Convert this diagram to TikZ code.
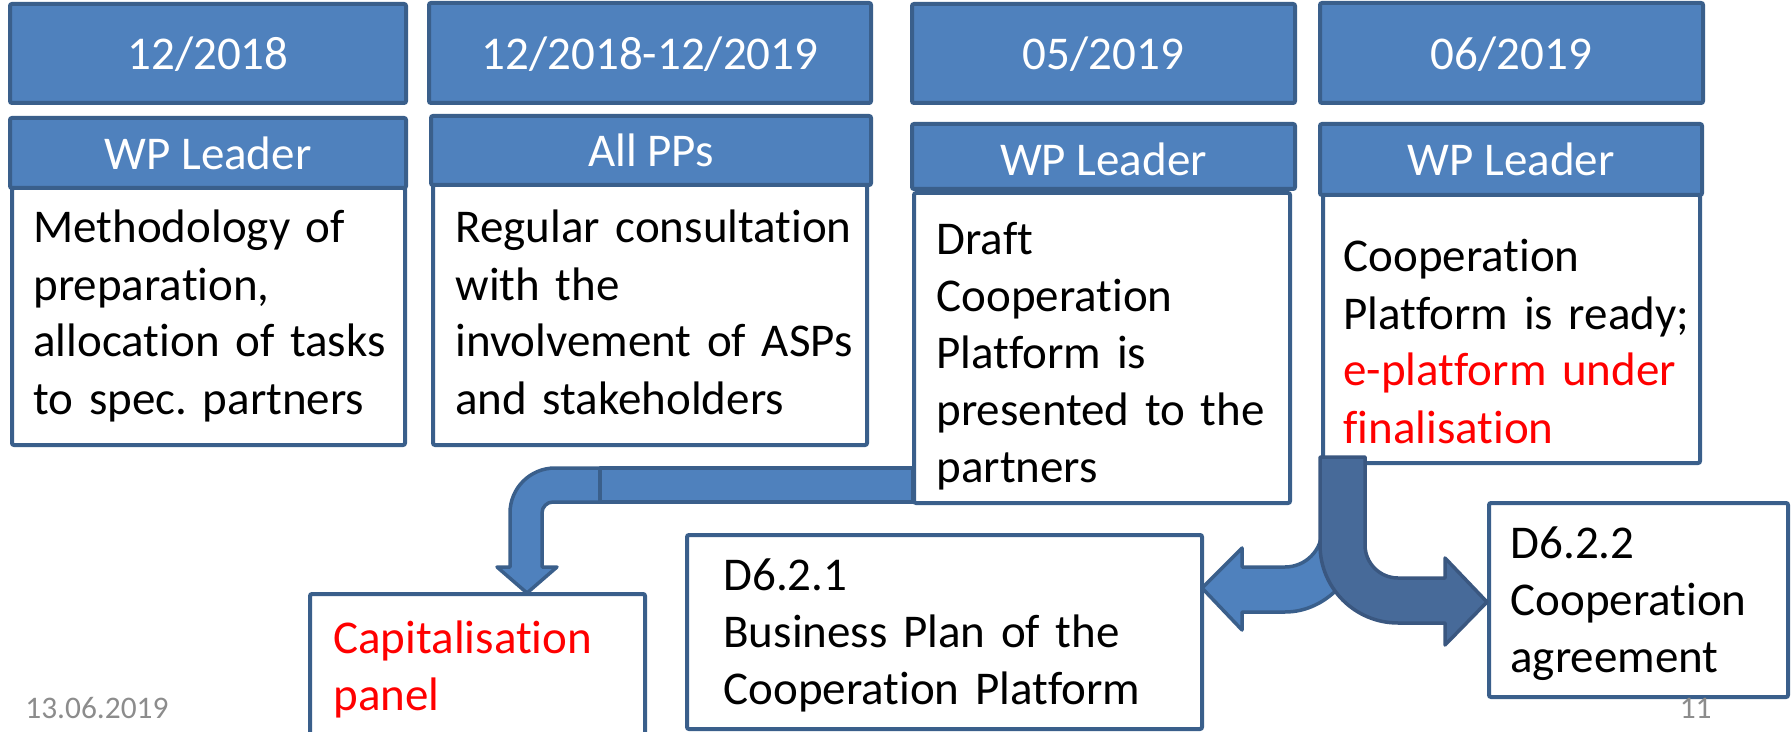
\documentclass[tikz,border=0pt]{standalone}
\usepackage{fontspec}
\setmainfont{Carlito}[RawFeature={-liga;-clig;-calt;-dlig}]
\usetikzlibrary{fit}
\definecolor{accfill}{HTML}{4F81BD}
\definecolor{accline}{HTML}{3A5F8B}
\definecolor{darkfill}{HTML}{476A99}
\definecolor{darkline}{HTML}{3A5780}
\definecolor{footgray}{HTML}{8C8C8C}
\definecolor{redtxt}{HTML}{FF0000}
\frenchspacing
\begin{document}
\begin{tikzpicture}[x=0.5pt,y=-0.5pt,
  bluebox/.style={draw=accline, fill=accfill, line width=2pt, inner sep=0pt, rounded corners=1pt},
  whitebox/.style={draw=accline, fill=white, line width=2pt, inner sep=0pt, rounded corners=1pt},
  wtxt/.style={text=white, font=\fontsize{23.5}{28.5}\selectfont, inner sep=0pt, anchor=base},
  btxt/.style={text=black, font=\fontsize{23.5}{28.5}\selectfont, inner sep=0pt, anchor=base west, text width=230pt, align=left},
  lightarrow/.style={draw=accline, fill=accfill, line width=1.75pt, line join=round},
  darkarrow/.style={draw=darkline, fill=darkfill, line width=1.75pt, line join=round},
  foot/.style={text=footgray, font=\fontsize{15.7}{19}\selectfont, inner sep=0pt}
]
\path[use as bounding box] (0,0) rectangle (1791,732);
\clip (0,0) rectangle (1791,732);

% date boxes
\node[bluebox, fit={(10,4) (406,103)}] (d1) {};
\node[bluebox, fit={(429,3) (871,103)}] (d2) {};
\node[bluebox, fit={(912,4) (1295,103)}] (d3) {};
\node[bluebox, fit={(1320,3) (1703,103)}] (d4) {};
\node[wtxt] (d1t) at (208,70) {12/2018};
\node[wtxt] (d2t) at (650,70) {12/2018-12/2019};
\node[wtxt] (d3t) at (1103.5,70) {05/2019};
\node[wtxt] (d4t) at (1511.5,70) {06/2019};

% body boxes
\node[whitebox, fit={(12,188) (405,445)}] (b1) {};
\node[whitebox, fit={(433,185) (867,445)}] (b2) {};
\node[whitebox, fit={(914,193) (1290,503)}] (b3) {};
\node[whitebox, fit={(1323,195) (1700,463)}] (b4) {};

% header boxes
\node[bluebox, fit={(10,118) (406,188)}] (h1) {};
\node[bluebox, fit={(431,116) (871,185)}] (h2) {};
\node[bluebox, fit={(912,124) (1295,189)}] (h3) {};
\node[bluebox, fit={(1320,124) (1702,195)}] (h4) {};
\node[wtxt] (h1t) at (208,170) {WP Leader};
\node[wtxt] (h2t) at (651,167) {All PPs};
\node[wtxt] (h3t) at (1103.5,176) {WP Leader};
\node[wtxt] (h4t) at (1511,176) {WP Leader};

% body texts
\node[btxt] (b1t) at (33,243) {Methodology of\\preparation,\\allocation of tasks\\to spec. partners};
\node[btxt] (b2t) at (455,243) {Regular consultation\\with the\\involvement of ASPs\\and stakeholders};
\node[btxt] (b3t) at (936,255) {Draft\\Cooperation\\Platform is\\presented to the\\partners};
\node[btxt] (b4t) at (1343,272) {Cooperation\\Platform is ready;\\\textcolor{redtxt}{e-platform under}\\\textcolor{redtxt}{finalisation}};

% output boxes
\node[whitebox, fit={(310,594) (645,770)}] (cap) {};
\node[whitebox, fit={(687,535) (1202,729)}] (p1) {};
\node[whitebox, fit={(1489,503) (1788,697)}] (p2) {};
\node[btxt, text=redtxt] (capt) at (333,653) {Capitalisation\\panel};
\node[btxt] (p1t) at (723,590) {D6.2.1\\Business Plan of the\\Cooperation Platform};
\node[btxt] (p2t) at (1510,558) {D6.2.2\\Cooperation\\agreement};

% bent arrow to capitalisation panel
\path[lightarrow] (613,468) -- (555,468)
  .. controls (530.1,468) and (510,488.1) .. (510,513)
  -- (510,567) -- (497,567) -- (527,593) -- (557,567) -- (542,567) -- (542,513)
  .. controls (542,506.9) and (546.9,502) .. (553,502)
  -- (613,502) -- cycle;
\path[lightarrow] (600,468) rectangle (913,502);

% left arrow to D6.2.1
\path[lightarrow] (1202,588) -- (1242,548) -- (1242,567) -- (1285,567)
  .. controls (1305.4,567) and (1322,550.4) .. (1322,530)
  -- (1322,500) -- (1362,500) -- (1362,530)
  .. controls (1362,572.5) and (1327.5,612) .. (1285,612)
  -- (1242,612) -- (1242,630) -- cycle;

% right arrow to D6.2.2
\path[darkarrow] (1320,457) -- (1365,457) -- (1365,545)
  .. controls (1365,563.2) and (1379.8,578) .. (1398,578)
  -- (1445,578) -- (1445,558) -- (1487,602) -- (1445,645) -- (1445,623) -- (1398,623)
  .. controls (1354.9,623) and (1320,588.1) .. (1320,545) -- cycle;

% footer
\node[foot, anchor=base west] (date) at (25,718) {13.06.2019};
\node[foot, anchor=base east] (pnum) at (1712,718) {11};
\end{tikzpicture}
\end{document}
